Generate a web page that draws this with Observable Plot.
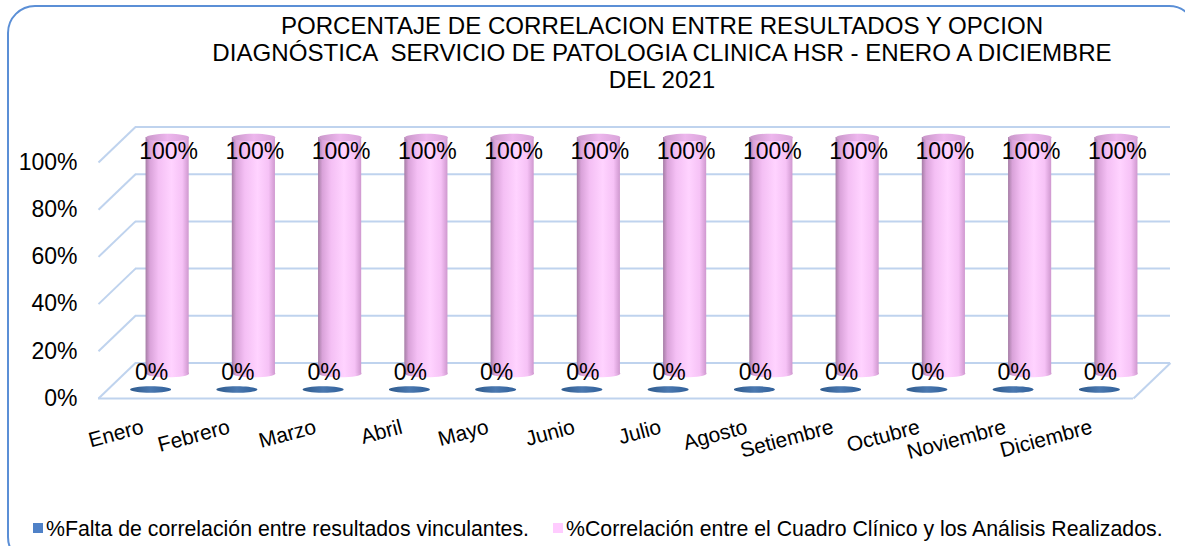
<!DOCTYPE html>
<html>
<head>
<meta charset="utf-8">
<script src="https://cdn.jsdelivr.net/npm/d3@7"></script>
<script src="https://cdn.jsdelivr.net/npm/@observablehq/plot@0.6"></script>
<style>
  html, body { margin: 0; padding: 0; background: #fff; }
  #wrap { position: relative; width: 1185px; height: 546px; overflow: hidden; font-family: "Liberation Sans", Arial, sans-serif; color: #000; }
  #border { position: absolute; left: 7px; top: 5px; width: 1190px; height: 560px; border: 2px solid #5B8FD6; border-radius: 28px; box-sizing: border-box; }
  #title { position: absolute; left: 162px; width: 1000px; top: 13.3px; text-align: center; font-size: 24.1px; line-height: 26.8px; white-space: pre; }
  #chart { position: absolute; left: 0; top: 105px; }
  .leg { position: absolute; top: 516.5px; font-size: 21.3px; line-height: 24px; white-space: nowrap; }
  .sw { position: absolute; top: 523px; width: 10px; height: 10px; }
</style>
</head>
<body>
<div id="wrap">
  <div id="border"></div>
  <div id="title">PORCENTAJE DE CORRELACION ENTRE RESULTADOS Y OPCION
DIAGNÓSTICA  SERVICIO DE PATOLOGIA CLINICA HSR - ENERO A DICIEMBRE
DEL 2021</div>
  <div id="chart"></div>
  <div class="sw" style="left:33px;background:#4F81C7"></div>
  <div class="leg" style="left:46px">%Falta de correlación entre resultados vinculantes.</div>
  <div class="sw" style="left:553px;background:#FFCCFF"></div>
  <div class="leg" style="left:566px">%Correlación entre el Cuadro Clínico y los Análisis Realizados.</div>
</div>
<script>
// ---- Data ----
const months = ["Enero","Febrero","Marzo","Abril","Mayo","Junio","Julio","Agosto","Setiembre","Octubre","Noviembre","Diciembre"];
const faltaCorrelacion = [0,0,0,0,0,0,0,0,0,0,0,0];
const correlacion = [100,100,100,100,100,100,100,100,100,100,100,100];
const yTicks = [0,20,40,60,80,100];

// ---- Layout ----
const W = 1185, H = 395, mL = 98, mR = 52, mT = 57, mB = 102;
const pxX = (W - mL - mR) / months.length;   // px per category
const pxY = (H - mT - mB) / 100;             // px per percent
const BACK = {dx: 37, dy: -35.5};
const PINK = {dx: 26, dy: -25};
const BLUE = {dx: 9, dy: -9};
const grid = "#BFD3EE";

const rowsBlue = months.map((m, i) => ({i, month: m, value: faltaCorrelacion[i]}));
const rowsPink = months.map((m, i) => ({i, month: m, value: correlacion[i]}));

const ellipse = (k) => ({
  draw(ctx, size) {
    const rx = Math.sqrt(size / Math.PI), ry = rx * k, c = 0.5523;
    ctx.moveTo(rx, 0);
    ctx.bezierCurveTo(rx, ry * c, rx * c, ry, 0, ry);
    ctx.bezierCurveTo(-rx * c, ry, -rx, ry * c, -rx, 0);
    ctx.bezierCurveTo(-rx, -ry * c, -rx * c, -ry, 0, -ry);
    ctx.bezierCurveTo(rx * c, -ry, rx, -ry * c, rx, 0);
    ctx.closePath();
  }
});

const depthX = BACK.dx / pxX, depthY = -BACK.dy / pxY;

const chart = Plot.plot({
  width: W, height: H,
  marginLeft: mL, marginRight: mR, marginTop: mT, marginBottom: mB,
  style: {fontFamily: "'Liberation Sans', Arial, sans-serif", fontSize: "23px", background: "transparent", color: "#000"},
  x: {type: "linear", domain: [-0.5, months.length - 0.5], axis: null},
  y: {domain: [0, 100], ticks: yTicks, tickFormat: d => d + "%", tickSize: 0, tickPadding: 21, label: null},
  marks: [
    // back wall gridlines
    Plot.ruleY(yTicks, {y: d => d, dx: BACK.dx, dy: BACK.dy, stroke: grid, strokeWidth: 2}),
    // left wall diagonals
    Plot.link(yTicks, {x1: () => -0.5, x2: () => -0.5 + depthX, y1: d => d, y2: d => d + depthY, stroke: grid, strokeWidth: 2}),
    // floor front edge and right edge
    Plot.ruleY([0], {y: d => d, stroke: grid, strokeWidth: 2}),
    Plot.link([0], {x1: () => months.length - 0.5, x2: () => months.length - 0.5 + depthX, y1: d => d, y2: d => d + depthY, stroke: grid, strokeWidth: 2}),
    // pink cylinders (back row)
    Plot.dot(rowsPink, {x: "i", y: () => 0, r: 21.5, symbol: ellipse(0.18), fill: "url(#pinkGrad)", dx: PINK.dx, dy: PINK.dy}),
    Plot.rect(rowsPink, {x1: d => d.i - 0.25, x2: d => d.i + 0.25, y1: () => 0, y2: "value", fill: "url(#pinkGrad)", dx: PINK.dx, dy: PINK.dy}),
    Plot.dot(rowsPink, {x: "i", y: "value", r: 21.5, symbol: ellipse(0.18), fill: "url(#topGrad)", dx: PINK.dx, dy: PINK.dy}),
    // blue discs (front row, value 0)
    Plot.dot(rowsBlue, {x: "i", y: "value", r: 20.5, symbol: ellipse(0.16), fill: "url(#blueGrad)", dx: BLUE.dx, dy: BLUE.dy}),
    // data labels
    Plot.text(rowsPink, {x: "i", y: "value", text: d => d.value + "%", dx: 27, dy: -11, fontSize: 23, fill: "#000"}),
    Plot.text(rowsBlue, {x: "i", y: "value", text: d => d.value + "%", dx: 10, dy: -26, fontSize: 23, fill: "#000"}),
    // category labels
    Plot.text(months, {x: (d, i) => i, y: () => 0, text: d => d, rotate: -15, textAnchor: "end", lineAnchor: "middle", dx: 1.5, dy: 28, fontSize: 21, fill: "#000"})
  ]
});

d3.select(chart).insert("defs", ":first-child").html(`
  <linearGradient id="pinkGrad" x1="0" x2="1" y1="0" y2="0">
    <stop offset="0" stop-color="#A57DA5"/>
    <stop offset="0.1" stop-color="#D9A2D9"/>
    <stop offset="0.3" stop-color="#F4BFF4"/>
    <stop offset="0.6" stop-color="#FFD3FF"/>
    <stop offset="0.85" stop-color="#F6C2F6"/>
    <stop offset="1" stop-color="#CF98CF"/>
  </linearGradient>
  <linearGradient id="topGrad" x1="0" x2="1" y1="0" y2="0">
    <stop offset="0" stop-color="#C996C9"/>
    <stop offset="0.5" stop-color="#EDB6ED"/>
    <stop offset="1" stop-color="#D9A3D9"/>
  </linearGradient>
  <linearGradient id="blueGrad" x1="0" x2="1" y1="0" y2="0">
    <stop offset="0" stop-color="#2E5A8C"/>
    <stop offset="0.5" stop-color="#4A78B0"/>
    <stop offset="1" stop-color="#30609A"/>
  </linearGradient>`);

document.getElementById("chart").appendChild(chart);
</script>
</body>
</html>
